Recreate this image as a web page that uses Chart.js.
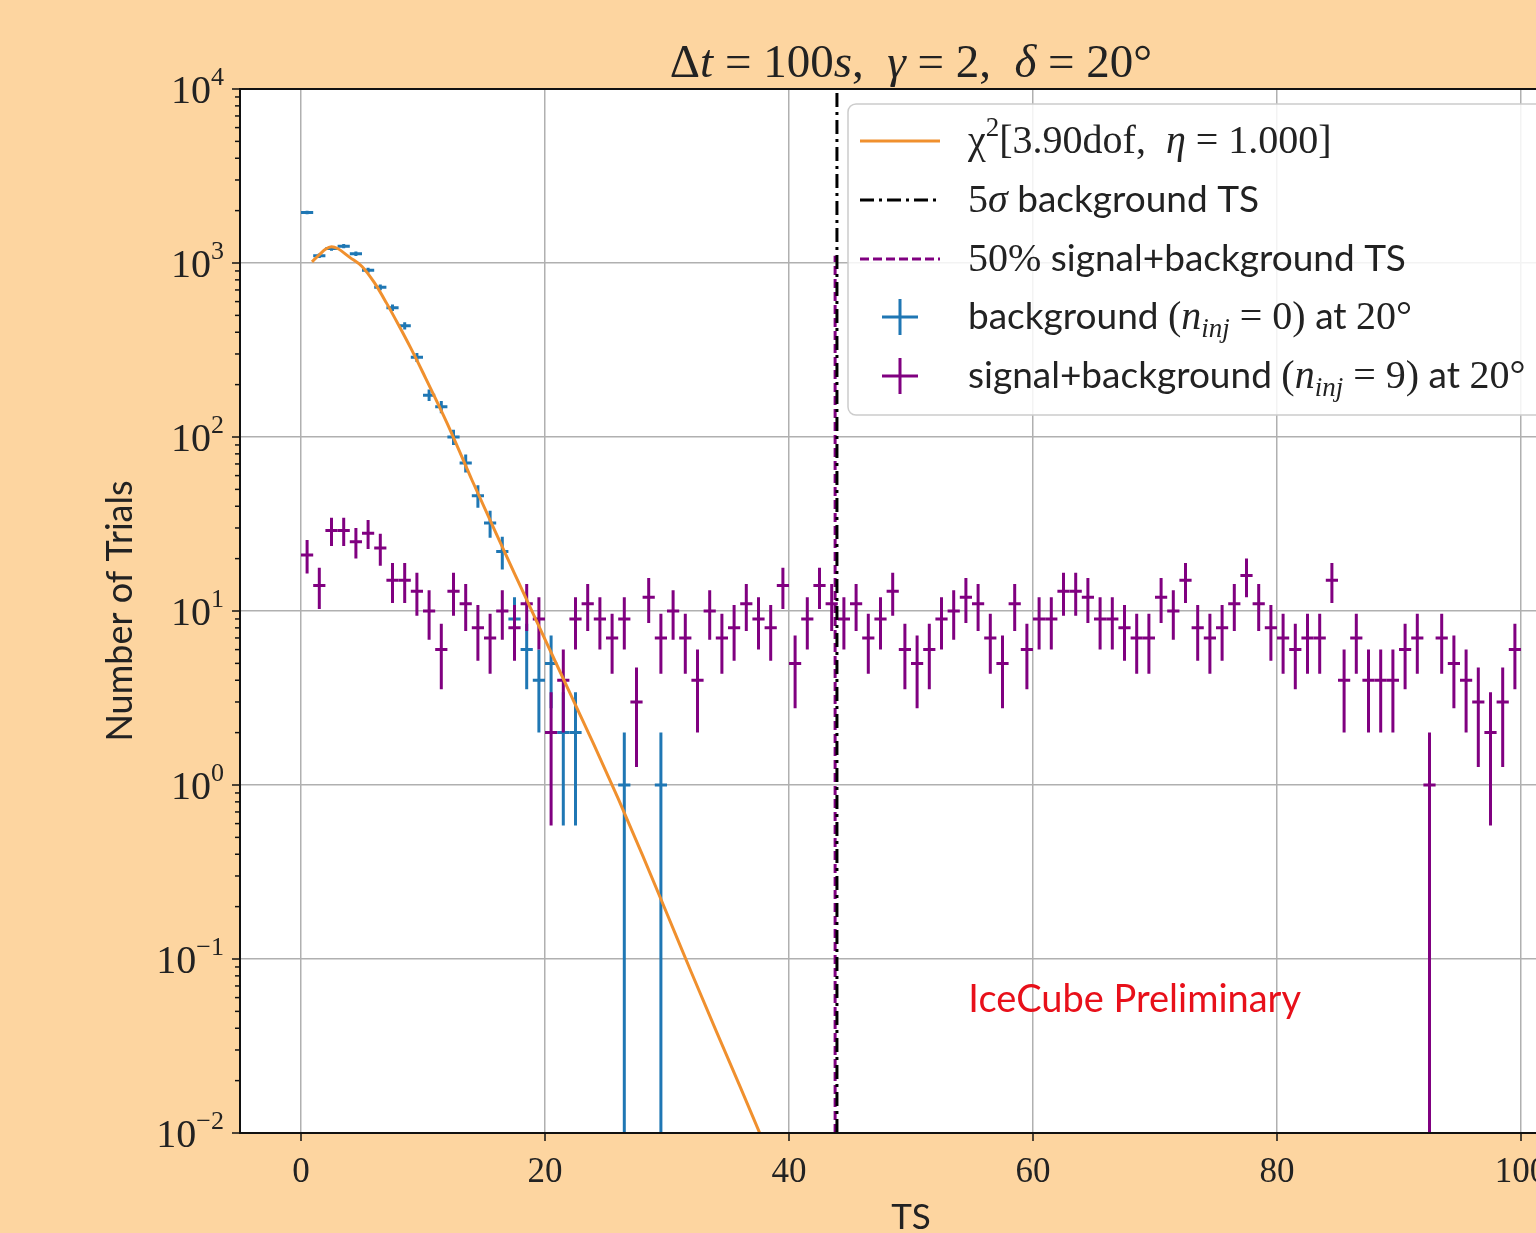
<!DOCTYPE html>
<html>
<head>
<meta charset="utf-8">
<script src="https://cdn.jsdelivr.net/npm/chart.js@4.4.1/dist/chart.umd.min.js"></script>
<style>
  html, body { margin: 0; padding: 0; overflow: hidden; width: 1536px; height: 1233px; background: #fdd5a0; }
  canvas { display: block; }
</style>
</head>
<body>
<canvas id="chart" width="1640" height="1233"></canvas>
<script>
// TS histogram, bins of width 1 from 0 to 100
var binWidth = 1;
var binCenters = [];
for (var i = 0; i < 100; i++) binCenters.push(i + binWidth / 2);

// background trials (n_inj = 0), counts per bin
var bkgCounts = [1950, 1100, 1210, 1250, 1130, 910, 725, 553, 436, 287,
  174, 149, 100, 71, 46, 32, 22, 9, 6, 4,
  5, 2, 2, 0, 0, 0, 1, 0, 0, 1];

// signal+background trials (n_inj = 9), counts per bin
var sigCounts = [21, 14, 29, 29, 25, 28, 23, 15, 15, 13,
  10, 6, 13, 11, 8, 7, 10, 8, 11, 9,
  2, 4, 9, 11, 9, 7, 9, 3, 12, 7,
  10, 7, 4, 10, 7, 8, 11, 9, 8, 14,
  5, 9, 14, 11, 9, 11, 7, 9, 13, 6,
  5, 6, 9, 10, 12, 11, 7, 5, 11, 6,
  9, 9, 13, 13, 12, 9, 9, 8, 7, 7,
  12, 10, 15, 8, 7, 8, 11, 16, 11, 8,
  7, 6, 7, 7, 15, 4, 7, 4, 4, 4,
  6, 7, 1, 7, 5, 4, 3, 2, 3, 6];

// chi2 fit curve
var fitTS = [0.9, 1.5, 2, 2.5, 3, 4, 5, 6, 7, 8, 9, 10, 12, 14, 16, 18, 20, 22, 24, 26, 28, 30, 32, 34, 36, 37.6];
var fitCounts = [1016, 1115, 1199, 1239, 1212, 1077, 955, 773, 590, 440, 324, 234, 119, 56.8, 27.8, 13.8, 6.87, 3.43, 1.71, 0.834, 0.394, 0.182, 0.0836, 0.039, 0.0184, 0.01];

var fiveSigmaTS = 43.93;
var medianSigTS = 43.78;
var medianLineTop = 1100;

var xTicks = [0, 20, 40, 60, 80, 100];
var yExponents = [-2, -1, 0, 1, 2, 3, 4];

var BLUE = '#1f77b4', PURPLE = '#800080', ORANGE = '#f0902e';
var SERIF = '"Liberation Serif", "DejaVu Serif", serif';
var SANS = 'Lato, "DejaVu Sans", sans-serif';

function serif(sz, it) { return (it ? 'italic ' : '') + sz + 'px ' + SERIF; }
function sans(sz) { return sz + 'px ' + SANS; }

function toPoints(xs, ys) {
  var out = [];
  for (var i = 0; i < ys.length; i++) if (ys[i] > 0) out.push({ x: xs[i], y: ys[i] });
  return out;
}

// mixed font text runs
function drawRuns(ctx, parts, x, y, align) {
  var w = 0;
  parts.forEach(function (p) { ctx.font = p.f; p.w = ctx.measureText(p.t).width; w += p.w; });
  var cx = align === 'center' ? x - w / 2 : (align === 'right' ? x - w : x);
  ctx.textAlign = 'left';
  ctx.textBaseline = 'alphabetic';
  parts.forEach(function (p) { ctx.font = p.f; ctx.fillText(p.t, cx, y + (p.dy || 0)); cx += p.w; });
  return w;
}

var errorBars = {
  id: 'errorBars',
  beforeDatasetsDraw: function (chart) {
    var ctx = chart.ctx, a = chart.chartArea;
    var xs = chart.scales.x, ys = chart.scales.y;
    ctx.save();
    ctx.beginPath();
    ctx.rect(a.left, a.top, a.right - a.left, a.bottom - a.top);
    ctx.clip();
    [[bkgCounts, BLUE], [sigCounts, PURPLE]].forEach(function (s) {
      ctx.strokeStyle = s[1];
      ctx.lineWidth = 3;
      s[0].forEach(function (n, i) {
        if (n <= 0) return;
        var x = xs.getPixelForValue(binCenters[i]);
        var y = ys.getPixelForValue(n);
        var err = Math.sqrt(n);
        var yTop = ys.getPixelForValue(n + err);
        var yBot = n - err > 0 ? ys.getPixelForValue(n - err) : a.bottom + 5;
        var x0 = xs.getPixelForValue(binCenters[i] - binWidth / 2);
        var x1 = xs.getPixelForValue(binCenters[i] + binWidth / 2);
        ctx.beginPath();
        ctx.moveTo(x, yTop); ctx.lineTo(x, yBot);
        ctx.moveTo(x0, y); ctx.lineTo(x1, y);
        ctx.stroke();
      });
    });
    ctx.restore();
  }
};

var decor = {
  id: 'decor',
  beforeDraw: function (chart) {
    var ctx = chart.ctx, a = chart.chartArea;
    ctx.save();
    ctx.fillStyle = '#fdd5a0';
    ctx.fillRect(0, 0, chart.width, chart.height);
    ctx.fillStyle = '#ffffff';
    ctx.fillRect(a.left, a.top, a.right - a.left, a.bottom - a.top);
    ctx.restore();
  },
  afterDraw: function (chart) {
    var ctx = chart.ctx, a = chart.chartArea;
    var xs = chart.scales.x, ys = chart.scales.y;
    ctx.save();
    // spines
    ctx.strokeStyle = '#111';
    ctx.lineWidth = 2;
    ctx.strokeRect(a.left, a.top, a.right - a.left, a.bottom - a.top);

    // x ticks and labels
    ctx.fillStyle = '#222';
    ctx.lineWidth = 1.5;
    xTicks.forEach(function (v) {
      var px = xs.getPixelForValue(v);
      ctx.beginPath(); ctx.moveTo(px, a.bottom); ctx.lineTo(px, a.bottom + 8); ctx.stroke();
      drawRuns(ctx, [{ t: String(v), f: serif(35) }], px, a.bottom + 49, 'center');
    });

    // y ticks (major + minor) and labels
    yExponents.forEach(function (k) {
      var py = ys.getPixelForValue(Math.pow(10, k));
      ctx.beginPath(); ctx.moveTo(a.left, py); ctx.lineTo(a.left - 8, py); ctx.stroke();
      var ex = k < 0 ? '\u2212' + (-k) : String(k);
      drawRuns(ctx, [{ t: '10', f: serif(40) }, { t: ex, f: serif(26), dy: -18 }], 224, py + 14, 'right');
      if (k < 4) {
        for (var m = 2; m <= 9; m++) {
          var pm = ys.getPixelForValue(m * Math.pow(10, k));
          ctx.beginPath(); ctx.moveTo(a.left, pm); ctx.lineTo(a.left - 5, pm); ctx.stroke();
        }
      }
    });

    // title
    drawRuns(ctx, [
      { t: '\u0394', f: serif(47) }, { t: 't', f: serif(47, true) }, { t: ' = 100', f: serif(47) },
      { t: 's', f: serif(47, true) }, { t: ',  ', f: serif(47) }, { t: '\u03b3', f: serif(47, true) },
      { t: ' = 2,  ', f: serif(47) }, { t: '\u03b4', f: serif(47, true) }, { t: ' = 20\u00b0', f: serif(47) }
    ], (a.left + a.right) / 2, 77, 'center');

    // axis labels
    ctx.font = sans(35);
    ctx.textAlign = 'center';
    ctx.textBaseline = 'middle';
    ctx.fillText('TS', (a.left + a.right) / 2, 1218);
    ctx.save();
    ctx.translate(120, (a.top + a.bottom) / 2);
    ctx.rotate(-Math.PI / 2);
    ctx.font = sans(36);
    ctx.fillText('Number of Trials', 0, 0);
    ctx.restore();

    // IceCube label
    ctx.fillStyle = '#e8101a';
    ctx.font = sans(38);
    ctx.textAlign = 'left';
    ctx.fillText('IceCube Preliminary', xs.getPixelForValue(54.7), ys.getPixelForValue(0.058));

    // legend
    var lx = 848, ly = 104;
    ctx.fillStyle = 'rgba(255,255,255,0.85)';
    ctx.strokeStyle = '#cccccc';
    ctx.lineWidth = 1.5;
    ctx.beginPath();
    ctx.roundRect(lx, ly, 800, 311, 8);
    ctx.fill(); ctx.stroke();

    var rows = [141, 200, 259, 317, 376];
    ctx.lineWidth = 3;
    ctx.strokeStyle = ORANGE;
    ctx.beginPath(); ctx.moveTo(860, rows[0]); ctx.lineTo(940, rows[0]); ctx.stroke();
    ctx.strokeStyle = '#000';
    ctx.setLineDash([14, 5, 3, 5]);
    ctx.beginPath(); ctx.moveTo(860, rows[1]); ctx.lineTo(940, rows[1]); ctx.stroke();
    ctx.strokeStyle = PURPLE;
    ctx.setLineDash([9, 4]);
    ctx.beginPath(); ctx.moveTo(860, rows[2]); ctx.lineTo(940, rows[2]); ctx.stroke();
    ctx.setLineDash([]);
    [[rows[3], BLUE], [rows[4], PURPLE]].forEach(function (r) {
      ctx.strokeStyle = r[1];
      ctx.beginPath();
      ctx.moveTo(882, r[0]); ctx.lineTo(918, r[0]);
      ctx.moveTo(900, r[0] - 18); ctx.lineTo(900, r[0] + 18);
      ctx.stroke();
    });

    ctx.fillStyle = '#222';
    var tx = 968, off = 12;
    var S = 40, SS = 27, T = 37;
    drawRuns(ctx, [
      { t: '\u03c7', f: serif(S) }, { t: '2', f: serif(SS), dy: -17 },
      { t: '[3.90dof,  ', f: serif(S) }, { t: '\u03b7', f: serif(S, true) }, { t: ' = 1.000]', f: serif(S) }
    ], tx, rows[0] + off);
    drawRuns(ctx, [
      { t: '5', f: serif(S) }, { t: '\u03c3', f: serif(S, true) }, { t: ' background TS', f: sans(T) }
    ], tx, rows[1] + off);
    drawRuns(ctx, [
      { t: '50%', f: serif(S) }, { t: ' signal+background TS', f: sans(T) }
    ], tx, rows[2] + off);
    drawRuns(ctx, [
      { t: 'background ', f: sans(T) }, { t: '(', f: serif(S) }, { t: 'n', f: serif(S, true) },
      { t: 'inj', f: serif(SS, true), dy: 8 }, { t: ' = 0)', f: serif(S) },
      { t: ' at ', f: sans(T) }, { t: '20\u00b0', f: serif(S) }
    ], tx, rows[3] + off);
    drawRuns(ctx, [
      { t: 'signal+background ', f: sans(T) }, { t: '(', f: serif(S) }, { t: 'n', f: serif(S, true) },
      { t: 'inj', f: serif(SS, true), dy: 8 }, { t: ' = 9)', f: serif(S) },
      { t: ' at ', f: sans(T) }, { t: '20\u00b0', f: serif(S) }
    ], tx, rows[4] + off);
    ctx.restore();
  }
};

var ctx = document.getElementById('chart').getContext('2d');
var chart = new Chart(ctx, {
  type: 'scatter',
  data: {
    datasets: [{
      label: 'chi2 fit',
      data: toPoints(fitTS, fitCounts),
      showLine: true,
      borderColor: ORANGE,
      borderWidth: 3,
      pointRadius: 0,
      cubicInterpolationMode: 'monotone'
    }, {
      label: '5 sigma background TS',
      data: [{ x: fiveSigmaTS, y: 1e-2 }, { x: fiveSigmaTS, y: 1e4 }],
      showLine: true,
      borderColor: '#000',
      borderWidth: 3,
      borderDash: [14, 5, 3, 5],
      pointRadius: 0
    }, {
      label: '50% signal+background TS',
      data: [{ x: medianSigTS, y: 1e-2 }, { x: medianSigTS, y: medianLineTop }],
      showLine: true,
      borderColor: PURPLE,
      borderWidth: 3,
      borderDash: [9, 4],
      pointRadius: 0
    }, {
      label: 'background',
      data: toPoints(binCenters, bkgCounts),
      pointRadius: 0
    }, {
      label: 'signal+background',
      data: toPoints(binCenters, sigCounts),
      pointRadius: 0
    }]
  },
  options: {
    responsive: false,
    animation: false,
    devicePixelRatio: 1,
    layout: { padding: { top: 89, right: 58, left: 0, bottom: 0 } },
    plugins: { legend: { display: false }, tooltip: { enabled: false } },
    scales: {
      x: {
        type: 'linear', min: -5, max: 105,
        afterBuildTicks: function (s) { s.ticks = xTicks.map(function (v) { return { value: v }; }); },
        afterFit: function (s) { s.height = 100; },
        ticks: { display: false },
        grid: { color: '#b0b0b0', lineWidth: 1.5, drawTicks: false },
        border: { display: false }
      },
      y: {
        type: 'logarithmic', min: 1e-2, max: 1e4,
        afterBuildTicks: function (s) { s.ticks = yExponents.map(function (k) { return { value: Math.pow(10, k) }; }); },
        afterFit: function (s) { s.width = 240; },
        ticks: { display: false },
        grid: { color: '#b0b0b0', lineWidth: 1.5, drawTicks: false },
        border: { display: false }
      }
    }
  },
  plugins: [errorBars, decor]
});
</script>
</body>
</html>
